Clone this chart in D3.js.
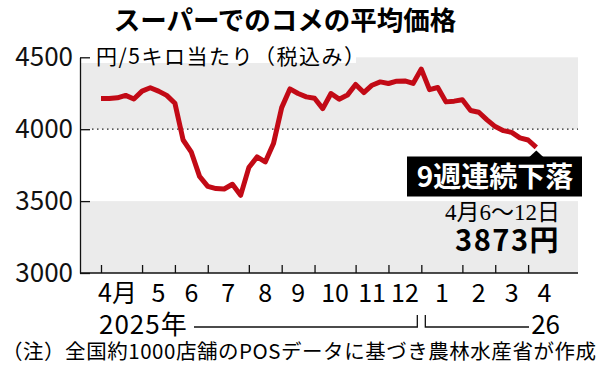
<!DOCTYPE html>
<html>
<head>
<meta charset="utf-8">
<script src="https://cdn.jsdelivr.net/npm/d3@7"></script>
<style>
  body { margin: 0; background: #fff; }
  svg text { font-family: "Noto Sans CJK JP", "Noto Sans", sans-serif; }
</style>
</head>
<body>
<div id="chart"></div>
<script>
var vWidth = 600;
var vHeight = 365;

// weekly average price (yen / 5kg), week of 2025-03-31 .. week of 2026-04-06
var prices = [4213, 4213, 4218, 4235, 4210, 4265, 4288, 4265, 4235, 4180,
              3925, 3840, 3672, 3603, 3587, 3584, 3617, 3540, 3733, 3807,
              3772, 3900, 4150, 4280, 4248, 4225, 4215, 4143, 4248, 4209,
              4237, 4311, 4255, 4306, 4329, 4318, 4334, 4336, 4318, 4418,
              4275, 4290, 4190, 4195, 4205, 4130, 4118, 4065, 4018, 3990,
              3978, 3940, 3925, 3873];
var monthLabels = ["4月", "5", "6", "7", "8", "9", "10", "11", "12", "1", "2", "3", "4"];
var monthStartIdx = [0, 5, 9, 13, 18, 22, 26, 31, 35, 39, 44, 48, 52];
var yTicks = [3000, 3500, 4000, 4500];
var bands = [[4000, 4500], [3000, 3500]];

var left = 80, right = 578;
var red = "#c20a16";

var svg = d3.select("#chart")
            .append("svg")
            .attr("width", vWidth)
            .attr("height", vHeight);

var x = d3.scaleLinear().domain([0, prices.length - 1]).range([101, 536.3]);
var y = d3.scaleLinear().domain([3000, 4500]).range([273, 57.3]);

// title
svg.append("text")
   .attr("x", 285).attr("y", 30)
   .attr("text-anchor", "middle")
   .attr("font-size", 26.5).attr("font-weight", "bold")
   .text("スーパーでのコメの平均価格");

// gray bands
svg.selectAll(".band").data(bands).enter().append("rect")
   .attr("class", "band")
   .attr("x", left + 1).attr("width", right - left - 1)
   .attr("y", d => y(d[1]))
   .attr("height", d => y(d[0]) - y(d[1]))
   .attr("fill", "#ebebeb");

// unit label with white backing
svg.append("rect").attr("x", left + 1).attr("y", 42).attr("width", 275).attr("height", 21).attr("fill", "#fff");
svg.append("text")
   .attr("x", 96).attr("y", 64)
   .attr("font-size", 21)
   .attr("letter-spacing", 1.5)
   .text("円/5キロ当たり（税込み）");

// dotted 4000 line
svg.append("line")
   .attr("x1", left + 12).attr("x2", right)
   .attr("y1", y(4000)).attr("y2", y(4000))
   .attr("stroke", "#222").attr("stroke-width", 1.3)
   .attr("stroke-dasharray", "1.5,3.5");

// y axis
var yAxis = d3.axisLeft(y).tickValues(yTicks).tickSize(-10).tickSizeOuter(0)
              .tickPadding(7).tickFormat(d3.format("d"));
var gy = svg.append("g").attr("transform", `translate(${left},0)`).call(yAxis);
gy.selectAll("text").attr("font-size", 26).attr("fill", "#111")
  .style("font-family", "'Noto Sans CJK JP', sans-serif");
gy.selectAll("line, path").attr("stroke", "#111").attr("stroke-width", 1.3);

// x axis
var xAxis = d3.axisBottom(x).tickValues(monthStartIdx).tickSize(-8).tickSizeOuter(0).tickFormat("");
var gx = svg.append("g").attr("transform", `translate(0,${y(3000)})`).call(xAxis);
gx.select(".domain").remove();
gx.selectAll("line").attr("stroke", "#111").attr("stroke-width", 1.3);
svg.append("line")
   .attr("x1", left).attr("x2", right)
   .attr("y1", y(3000)).attr("y2", y(3000))
   .attr("stroke", "#111").attr("stroke-width", 1.3);

// month labels
svg.selectAll(".month").data(monthLabels).enter().append("text")
   .attr("class", "month")
   .attr("x", (d, i) => {
       var next = i < monthStartIdx.length - 1 ? monthStartIdx[i + 1] : monthStartIdx[i] + 4;
       return (x(monthStartIdx[i]) + x(next)) / 2 - (i === 0 ? 4 : 0);
   })
   .attr("y", 302)
   .attr("text-anchor", "middle")
   .attr("font-size", 25)
   .text(d => d);

// year brackets
var yb = 327;
var split = x(monthStartIdx[9]);
svg.append("text").attr("x", 99).attr("y", 334).attr("font-size", 26).attr("letter-spacing", 1).text("2025年");
svg.append("text").attr("x", 560).attr("y", 334).attr("text-anchor", "end").attr("font-size", 26).text("26");
svg.append("path")
   .attr("d", `M194,${yb}H${split - 4}V${yb - 12}`)
   .attr("fill", "none").attr("stroke", "#111").attr("stroke-width", 1.3);
svg.append("path")
   .attr("d", `M${split + 4},${yb - 12}V${yb}H529`)
   .attr("fill", "none").attr("stroke", "#111").attr("stroke-width", 1.3);

// price line
var line = d3.line().x((d, i) => x(i)).y(d => y(d));
svg.append("path")
   .datum(prices)
   .attr("d", line)
   .attr("fill", "none")
   .attr("stroke", red)
   .attr("stroke-width", 5)
   .attr("stroke-linejoin", "round");

// callout
var lastX = x(prices.length - 1), lastY = y(prices[prices.length - 1]);
svg.append("path")
   .attr("d", `M${lastX},${lastY + 3}L${lastX - 7},${157}L${lastX + 7},${157}Z`)
   .attr("fill", "#000");
svg.append("rect")
   .attr("x", 407).attr("y", 156.5).attr("width", 175).attr("height", 40)
   .attr("fill", "#000");
svg.append("text")
   .attr("x", 495).attr("y", 187)
   .attr("text-anchor", "middle")
   .attr("fill", "#fff")
   .attr("font-size", 28).attr("font-weight", "bold")
   .text("9週連続下落");
svg.append("text")
   .attr("x", 560).attr("y", 220)
   .attr("text-anchor", "end")
   .attr("font-size", 23)
   .style("font-family", "'Liberation Serif', 'Noto Sans CJK JP', serif")
   .text("4月6～12日");
svg.append("text")
   .attr("x", 560).attr("y", 251)
   .attr("text-anchor", "end")
   .attr("font-size", 29).attr("font-weight", "bold")
   .attr("letter-spacing", 1.5)
   .text(prices[prices.length - 1] + "円");

// footnote
svg.append("text")
   .attr("x", 2).attr("y", 359)
   .attr("font-size", 20.5)
   .attr("textLength", 594)
   .text("（注）全国約1000店舗のPOSデータに基づき農林水産省が作成");
</script>
</body>
</html>
